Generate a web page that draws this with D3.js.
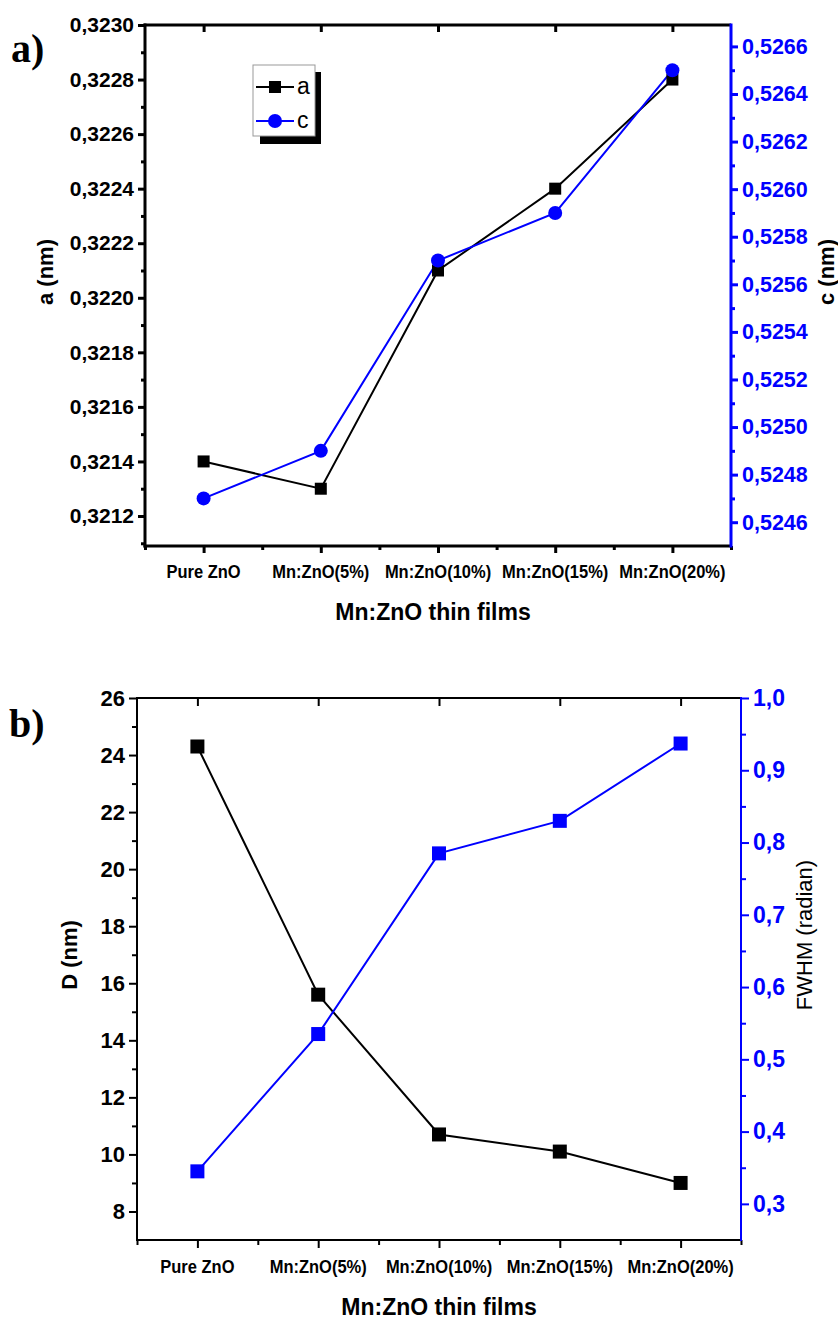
<!DOCTYPE html>
<html>
<head>
<meta charset="utf-8">
<script src="https://cdn.jsdelivr.net/npm/d3@7"></script>
<style>
  html, body { margin: 0; padding: 0; background: #fff; }
  svg { display: block; }
  text { font-family: "Liberation Sans", Arial, sans-serif; }
</style>
</head>
<body>
<svg id="chart" width="838" height="1322"></svg>
<script>
// ---------- data ----------
const categories = ["Pure ZnO", "Mn:ZnO(5%)", "Mn:ZnO(10%)", "Mn:ZnO(15%)", "Mn:ZnO(20%)"];
const latticeA = [0.3214, 0.3213, 0.3221, 0.3224, 0.3228];
const latticeC = [0.5247, 0.5249, 0.5257, 0.5259, 0.5265];
const crystalD = [24.3, 15.6, 10.7, 10.1, 9.0];
const fwhmRad = [0.345, 0.535, 0.785, 0.83, 0.937];

const aTicks = [0.3212, 0.3214, 0.3216, 0.3218, 0.3220, 0.3222, 0.3224, 0.3226, 0.3228, 0.3230];
const cTicks = [0.5246, 0.5248, 0.5250, 0.5252, 0.5254, 0.5256, 0.5258, 0.5260, 0.5262, 0.5264, 0.5266];
const dTicks = [8, 10, 12, 14, 16, 18, 20, 22, 24, 26];
const fTicks = [0.3, 0.4, 0.5, 0.6, 0.7, 0.8, 0.9, 1.0];

const BLUE = "#0000ff";
const FONT = "'Liberation Sans', Arial, sans-serif";
const svg = d3.select("#chart");
const comma = (n, d) => n.toFixed(d).replace(".", ",");

function minorBetween(ticks, step) {
  const out = [];
  for (let i = 0; i < ticks.length - 1; i++) out.push(ticks[i] + step);
  return out;
}

function drawPanel(cfg) {
  const g = svg.append("g");
  const x = d3.scaleLinear().domain([0.5, categories.length + 0.5]).range([cfg.left, cfg.right]);
  const yL = d3.scaleLinear().domain(cfg.lDomain).range([cfg.bottom, cfg.top]);
  const yR = d3.scaleLinear().domain(cfg.rDomain).range([cfg.bottom, cfg.top]);
  const idx = categories.map((c, i) => i + 1);

  // bottom axis
  const xb = g.append("g").attr("transform", `translate(0,${cfg.bottom})`);
  xb.call(d3.axisBottom(x).tickValues(idx).tickSize(cfg.majorLen).tickFormat(""));
  xb.append("g").call(d3.axisBottom(x).tickValues(d3.range(0.5, categories.length + 1, 1)).tickSize(cfg.minorLen).tickFormat(""));
  xb.selectAll(".domain").remove();
  xb.selectAll("line").attr("stroke", "#000").attr("stroke-width", cfg.axisW);
  xb.append("line").attr("x1", cfg.left - cfg.axisW / 2).attr("x2", cfg.right).attr("stroke", "#000").attr("stroke-width", cfg.axisW);
  xb.selectAll(".catlab").data(categories).enter().append("text")
    .attr("class", "catlab")
    .attr("transform", (d, i) => `translate(${x(i + 1)},${cfg.xLabOff}) scale(1,1.15)`)
    .attr("text-anchor", "middle").attr("font-size", 16.5).attr("font-weight", "bold")
    .attr("fill", "#000").style("font-family", FONT)
    .text(d => d);

  // top axis (mirror, ticks inside)
  const xt = g.append("g").attr("transform", `translate(0,${cfg.top})`);
  xt.call(d3.axisBottom(x).tickValues(idx).tickSize(cfg.majorLen).tickFormat(""));
  xt.selectAll(".domain").remove();
  xt.selectAll("line").attr("stroke", "#000").attr("stroke-width", cfg.axisW);
  xt.append("line").attr("x1", cfg.left - cfg.axisW / 2).attr("x2", cfg.right).attr("stroke", "#000").attr("stroke-width", cfg.axisW);

  // left axis
  const yl = g.append("g").attr("transform", `translate(${cfg.left},0)`);
  yl.call(d3.axisLeft(yL).tickValues(cfg.lTicks).tickSize(cfg.majorLen).tickFormat(cfg.lFmt).tickPadding(4));
  yl.append("g").call(d3.axisLeft(yL).tickValues(minorBetween(cfg.lTicks, cfg.lStep / 2).concat(cfg.lExtraMinor)).tickSize(cfg.minorLen).tickFormat(""));
  yl.selectAll(".domain").remove();
  yl.selectAll("line").attr("stroke", "#000").attr("stroke-width", cfg.axisW);
  yl.append("line").attr("y1", cfg.top - cfg.axisW / 2).attr("y2", cfg.bottom + cfg.axisW / 2).attr("stroke", "#000").attr("stroke-width", cfg.axisW);
  yl.selectAll("text").attr("font-size", cfg.yFontL).attr("font-weight", "bold").attr("fill", "#000")
    .style("font-family", FONT);

  // right axis (blue)
  const yr = g.append("g").attr("transform", `translate(${cfg.right},0)`);
  yr.call(d3.axisRight(yR).tickValues(cfg.rTicks).tickSize(cfg.majorLen).tickFormat(cfg.rFmt).tickPadding(4));
  yr.append("g").call(d3.axisRight(yR).tickValues(minorBetween(cfg.rTicks, cfg.rStep / 2).concat(cfg.rExtraMinor)).tickSize(cfg.minorLen).tickFormat(""));
  yr.selectAll(".domain").remove();
  yr.selectAll("line").attr("stroke", BLUE).attr("stroke-width", cfg.axisW);
  yr.append("line").attr("y1", cfg.top - cfg.axisW / 2).attr("y2", cfg.bottom + cfg.axisW / 2).attr("stroke", BLUE).attr("stroke-width", cfg.axisW);
  yr.selectAll("text").attr("font-size", cfg.yFontR).attr("font-weight", "bold").attr("fill", BLUE)
    .style("font-family", FONT);

  // titles
  g.append("text").attr("x", (cfg.left + cfg.right) / 2 + cfg.xTitleDx).attr("y", cfg.bottom + cfg.xTitleOff)
    .attr("text-anchor", "middle").attr("font-size", 23).attr("font-weight", "bold").text("Mn:ZnO thin films");
  g.append("text").attr("transform", `translate(${cfg.lTitleX},${cfg.lTitleY}) rotate(-90)`)
    .attr("text-anchor", "middle").attr("font-size", 22).attr("font-weight", "bold").text(cfg.lTitle);
  g.append("text").attr("transform", `translate(${cfg.rTitleX},${cfg.rTitleY}) rotate(-90)`)
    .attr("text-anchor", "middle").attr("font-size", cfg.rTitleSize).attr("font-weight", cfg.rTitleWeight).text(cfg.rTitle);
  g.append("text").attr("x", cfg.panelX).attr("y", cfg.panelY)
    .style("font-family", "'Liberation Serif', 'Times New Roman', serif")
    .attr("font-size", 40).attr("font-weight", "bold").text(cfg.panel);

  // series
  const lineL = d3.line().x((d, i) => x(i + 1)).y(d => yL(d));
  const lineR = d3.line().x((d, i) => x(i + 1)).y(d => yR(d));
  g.append("path").datum(cfg.lData).attr("d", lineL).attr("fill", "none").attr("stroke", "#000").attr("stroke-width", 2);
  g.append("path").datum(cfg.rData).attr("d", lineR).attr("fill", "none").attr("stroke", BLUE).attr("stroke-width", 2);
  const s = cfg.sq;
  g.selectAll(".ml").data(cfg.lData).enter().append("rect")
    .attr("x", (d, i) => x(i + 1) - s / 2).attr("y", d => yL(d) - s / 2)
    .attr("width", s).attr("height", s).attr("fill", "#000");
  if (cfg.rMarker === "circle") {
    g.selectAll(".mr").data(cfg.rData).enter().append("circle")
      .attr("cx", (d, i) => x(i + 1)).attr("cy", d => yR(d)).attr("r", cfg.rad).attr("fill", BLUE);
  } else {
    g.selectAll(".mr").data(cfg.rData).enter().append("rect")
      .attr("x", (d, i) => x(i + 1) - s / 2).attr("y", d => yR(d) - s / 2)
      .attr("width", s).attr("height", s).attr("fill", BLUE);
  }
  return g;
}

// ---------- panel a ----------
drawPanel({
  left: 145, right: 731, top: 25, bottom: 546,
  lDomain: [0.32109, 0.3230], rDomain: [0.52450, 0.52669],
  lTicks: aTicks, rTicks: cTicks, lStep: 0.0002, rStep: 0.0002,
  lExtraMinor: [0.3211], rExtraMinor: [],
  lFmt: d => comma(d, 4), rFmt: d => comma(d, 4),
  majorLen: 7, minorLen: 4, axisW: 3, yFontL: 21, yFontR: 21.5,
  xLabOff: 32, xTitleOff: 74, xTitleDx: -5,
  lTitle: "a (nm)", lTitleX: 53, lTitleY: 272,
  rTitle: "c (nm)", rTitleX: 834, rTitleY: 272, rTitleSize: 22, rTitleWeight: "bold",
  panel: "a)", panelX: 11, panelY: 62,
  lData: latticeA, rData: latticeC, sq: 12, rad: 7, rMarker: "circle"
});

// legend for panel a
const leg = svg.append("g");
leg.append("rect").attr("x", 260).attr("y", 72).attr("width", 61).attr("height", 72).attr("fill", "#000");
leg.append("rect").attr("x", 253).attr("y", 65).attr("width", 62).attr("height", 71).attr("fill", "#fff").attr("stroke", "#999").attr("stroke-width", 1);
const legItems = [{ name: "a", color: "#000", shape: "sq", y: 87 }, { name: "c", color: BLUE, shape: "ci", y: 121 }];
legItems.forEach(it => {
  leg.append("line").attr("x1", 256).attr("x2", 294).attr("y1", it.y).attr("y2", it.y).attr("stroke", it.color).attr("stroke-width", 2);
  if (it.shape === "sq") leg.append("rect").attr("x", 269).attr("y", it.y - 6).attr("width", 12).attr("height", 12).attr("fill", it.color);
  else leg.append("circle").attr("cx", 275).attr("cy", it.y).attr("r", 7).attr("fill", it.color);
  leg.append("text").attr("x", 297).attr("y", it.y + 7).attr("font-size", 23).attr("fill", "#000").text(it.name);
});

// ---------- panel b ----------
drawPanel({
  left: 137, right: 741, top: 698, bottom: 1240,
  lDomain: [7, 26], rDomain: [0.25, 1.0],
  lTicks: dTicks, rTicks: fTicks, lStep: 2, rStep: 0.1,
  lExtraMinor: [], rExtraMinor: [],
  lFmt: d => d3.format("d")(d), rFmt: d => comma(d, 1),
  majorLen: 8, minorLen: 5, axisW: 2, yFontL: 22, yFontR: 23,
  xLabOff: 33, xTitleOff: 75, xTitleDx: 0,
  lTitle: "D (nm)", lTitleX: 77, lTitleY: 955,
  rTitle: "FWHM (radian)", rTitleX: 812, rTitleY: 935, rTitleSize: 22, rTitleWeight: "normal",
  panel: "b)", panelX: 9, panelY: 737,
  lData: crystalD, rData: fwhmRad, sq: 14, rad: 7, rMarker: "square"
});
</script>
</body>
</html>
